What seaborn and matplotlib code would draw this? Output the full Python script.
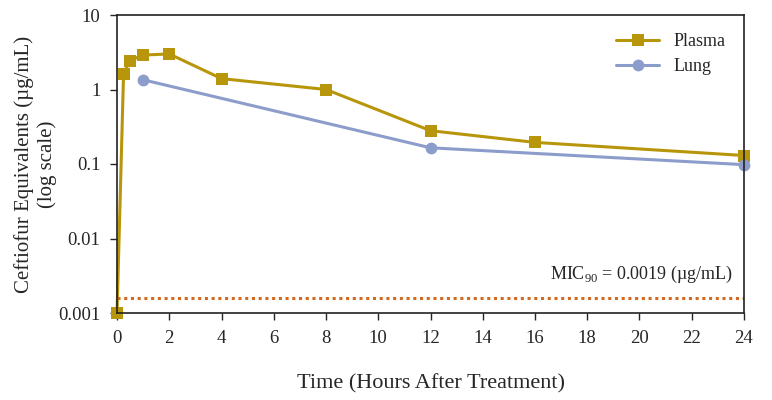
import matplotlib.pyplot as plt
import seaborn as sns
import pandas as pd
from matplotlib.ticker import FixedLocator, NullLocator, FixedFormatter

plasma_hours = [0, 0.25, 0.5, 1, 2, 4, 8, 12, 16, 24]
plasma_conc = [0.001, 1.62, 2.45, 2.9, 3.0, 1.4, 1.0, 0.28, 0.195, 0.13]
lung_hours = [1, 12, 24]
lung_conc = [1.35, 0.165, 0.098]
mic90 = 0.0016
mic_label = "MIC$_{90}$ = 0.0019 (\u00b5g/mL)"

plasma = pd.DataFrame({"hours": plasma_hours, "conc": plasma_conc})
lung = pd.DataFrame({"hours": lung_hours, "conc": lung_conc})

sns.set_style("ticks")
plt.rcParams['font.family'] = ['Liberation Serif', 'DejaVu Serif']
plt.rcParams['mathtext.fontset'] = 'custom'
plt.rcParams['mathtext.rm'] = 'Liberation Serif'

fig = plt.figure(figsize=(7.72, 4), dpi=100)
ax = fig.add_axes([0.1516, 0.2175, 0.8121, 0.745])

sns.lineplot(data=plasma, x="hours", y="conc", ax=ax, color='#b8960c', marker='s',
             markersize=8.5, markeredgewidth=0, linewidth=2.2, label="Plasma", clip_on=False)
sns.lineplot(data=lung, x="hours", y="conc", ax=ax, color='#8c9dcb', marker='o',
             markersize=8.5, markeredgewidth=0, linewidth=2.2, label="Lung", clip_on=False)
ax.axhline(mic90, color='#d2691e', linestyle=(0, (1, 1.2)), linewidth=2.2, xmax=1)

ax.set_yscale('log')
ax.set_ylim(0.001, 10)
ax.set_xlim(0, 24)
ax.set_xticks(range(0, 25, 2))
ax.yaxis.set_major_locator(FixedLocator([0.001, 0.01, 0.1, 1, 10]))
ax.yaxis.set_major_formatter(FixedFormatter(["0.001", "0.01", "0.1", "1", "10"]))
ax.yaxis.set_minor_locator(NullLocator())
ax.tick_params(axis='both', labelsize=13.5, direction='out', length=5, width=1, pad=7)

for s in ax.spines.values():
    s.set_color('#222222')
    s.set_linewidth(1.2)

ax.set_xlabel("Time (Hours After Treatment)", fontsize=16, labelpad=20)
ax.set_ylabel("Ceftiofur Equivalents (\u00b5g/mL)\n(log scale)", fontsize=15,
              linespacing=1.2, va='center', ha='center')
ax.yaxis.set_label_coords(-0.13, 0.5)

ax.text(23.6, 0.0024, mic_label, ha='right', va='bottom', fontsize=13)

ax.legend(loc='upper right', frameon=False, fontsize=13, handlelength=2.4,
          borderaxespad=0.6, labelspacing=0.45)

fig.savefig("out.png", dpi=100)
